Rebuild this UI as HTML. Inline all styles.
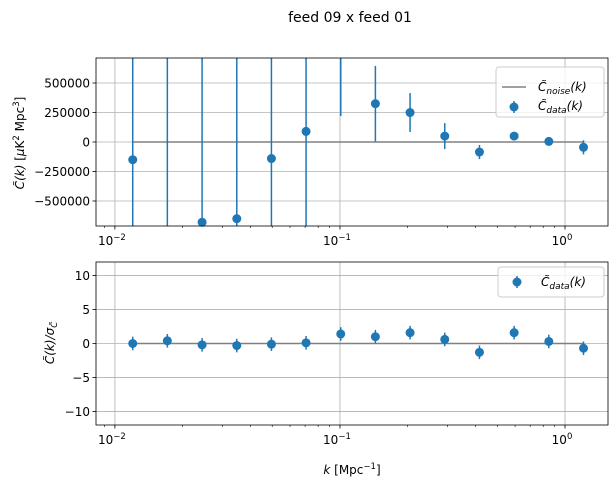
<!DOCTYPE html>
<html><head><meta charset="utf-8"><style>
html,body{margin:0;padding:0;background:#fff;overflow:hidden;width:616px;height:493px}
#wrap{position:relative;width:616px;height:493px;overflow:hidden}
svg{display:block;font-family:"DejaVu Sans","Liberation Sans",sans-serif;position:absolute;left:0;top:0}
</style></head><body>
<div id="wrap">
<svg id="c" width="616" height="493" xmlns="http://www.w3.org/2000/svg">
<text x="350" y="22" font-size="14" text-anchor="middle">feed 09 x feed 01</text>
</svg>
<script>
const kvals=[0.0120,0.0171,0.0244,0.0348,0.0496,0.0707,0.1008,0.1437,0.2049,0.2922,0.4167,0.5942,0.8473,1.2083];
const topVals=[-150000,-1200000,-680000,-650000,-140000,90000,900000,325000,250000,50000,-85000,50000,5000,-45000];
const topErr=[2500000,2500000,2500000,2500000,2500000,2500000,680000,320000,165000,110000,60000,20000,10000,60000];
const botVals=[0,0.4,-0.2,-0.3,-0.1,0.1,1.4,1.0,1.6,0.6,-1.3,1.6,0.3,-0.7];
const botErr=[1,1,1,1,1,1,1,1,1,1,1,1,1,1];
const topTicks=[-500000,-250000,0,250000,500000];
const botTicks=[-10,-5,0,5,10];
const xTicks=[0.01,0.1,1];
const xTickLabels=["10","10","10"];
const xTickExp=["−2","−1","0"];

const svg=document.getElementById('c');
const NS='http://www.w3.org/2000/svg';
const L=96,R=608;
const lx0=-2.084,lx1=0.191;
function xs(k){return L+(Math.log10(k)-lx0)/(lx1-lx0)*(R-L);}
function mk(tag,attrs,parent){const e=document.createElementNS(NS,tag);for(const a in attrs)e.setAttribute(a,attrs[a]);(parent||svg).appendChild(e);return e;}

function panel(T,B,ymin,ymax,yticks,vals,errs,noise,name){
  const ys=v=>B-(v-ymin)/(ymax-ymin)*(B-T);
  const cl=y=>Math.max(T,Math.min(B,y));
  const g=mk('g',{});
  
  
  yticks.forEach(t=>{const y=ys(t);
    mk('line',{x1:L,x2:R,y1:y,y2:y,stroke:'#b0b0b0','stroke-width':0.8},g);
    mk('line',{x1:L-3.5,x2:L,y1:y,y2:y,stroke:'#000','stroke-width':0.8},g);
    const tx=mk('text',{x:L-6,y:y+4.5,'font-size':12,'text-anchor':'end'},g);
    tx.textContent=String(t).replace('-','−');
    
    
  });
  xTicks.forEach((k,i)=>{const x=xs(k);
    mk('line',{x1:x,x2:x,y1:T,y2:B,stroke:'#b0b0b0','stroke-width':0.8},g);
    mk('line',{x1:x,x2:x,y1:B,y2:B+3.5,stroke:'#000','stroke-width':0.8},g);
    const tx=mk('text',{x:x-3,y:B+19,'font-size':12,'text-anchor':'middle'},g);
    tx.textContent=xTickLabels[i];
    const sp=mk('tspan',{'font-size':8.5,dy:-5},tx);sp.textContent=xTickExp[i];
    
    
  });
  for(let d=-3;d<=0;d++)for(let m=2;m<=9;m++){const k=m*Math.pow(10,d);const x=xs(k);
    if(x>L&&x<R)mk('line',{x1:x,x2:x,y1:B,y2:B+2,stroke:'#000','stroke-width':0.6},g);}
  const ln=mk('line',{x1:xs(kvals[0]),x2:xs(kvals[kvals.length-1]),y1:ys(0),y2:ys(0),stroke:'#808080','stroke-width':1.5},g);
  
  
  vals.forEach((v,i)=>{const x=xs(kvals[i]);
    const e=mk('line',{x1:x,x2:x,y1:cl(ys(v-errs[i])),y2:cl(ys(v+errs[i])),stroke:'#1f77b4','stroke-width':1.5},g);
    
    
    const cy=ys(v);
    if(cy>=T-4 && cy<=B+4){
      const c=mk('circle',{cx:x,cy:cy,r:4.5,fill:'#1f77b4'},g);
      
      
    }
  });
  mk('rect',{x:L,y:T,width:R-L,height:B-T,fill:'none',stroke:'#000','stroke-width':0.8},g);
  return ys;
}
panel(58,226,-712000,712000,topTicks,topVals,topErr,true,'top-panel');
panel(262,425,-12,12,botTicks,botVals,botErr,false,'bottom-panel');
</script>
<svg width="616" height="493" xmlns="http://www.w3.org/2000/svg" font-family="DejaVu Sans, Liberation Sans, sans-serif">
<rect x="0" y="0" width="96" height="58" fill="none"/>
<g>
<rect x="496" y="67" width="108" height="50" rx="3" fill="#fff" fill-opacity="0.8" stroke="#ccc"/>
<line x1="502" x2="526" y1="87" y2="87" stroke="#808080" stroke-width="1.5"/>
<text x="538" y="91" font-size="12" font-style="italic">C̃<tspan font-size="9" dy="3">noise</tspan><tspan dy="-3">(k)</tspan></text>
<line x1="514" x2="514" y1="101" y2="113" stroke="#1f77b4" stroke-width="1.5"/>
<circle cx="514" cy="107" r="4.5" fill="#1f77b4"/>
<text x="538" y="110" font-size="12" font-style="italic">C̃<tspan font-size="9" dy="3">data</tspan><tspan dy="-3">(k)</tspan></text>
</g>
<g>
<rect x="498" y="267" width="106" height="30" rx="3" fill="#fff" fill-opacity="0.8" stroke="#ccc"/>
<line x1="517" x2="517" y1="276" y2="288" stroke="#1f77b4" stroke-width="1.5"/>
<circle cx="517" cy="282" r="4.5" fill="#1f77b4"/>
<text x="541" y="286" font-size="12" font-style="italic">C̃<tspan font-size="9" dy="3">data</tspan><tspan dy="-3">(k)</tspan></text>
</g>
<text transform="translate(24,143) rotate(-90)" font-size="12" text-anchor="middle"><tspan font-style="italic">C̃(k)</tspan> [<tspan font-style="italic">μ</tspan>K<tspan font-size="8.5" dy="-5">2</tspan><tspan dy="5"> Mpc</tspan><tspan font-size="8.5" dy="-5">3</tspan><tspan dy="5">]</tspan></text>
<text transform="translate(54,343) rotate(-90)" font-size="12" text-anchor="middle" font-style="italic">C̃(k)/σ<tspan font-size="8.5" dy="3">C̃</tspan></text>
<text x="352" y="474" font-size="12" text-anchor="middle"><tspan font-style="italic">k</tspan> [Mpc<tspan font-size="8.5" dy="-5">−1</tspan><tspan dy="5">]</tspan></text>
</svg>
</div>
</body></html>
